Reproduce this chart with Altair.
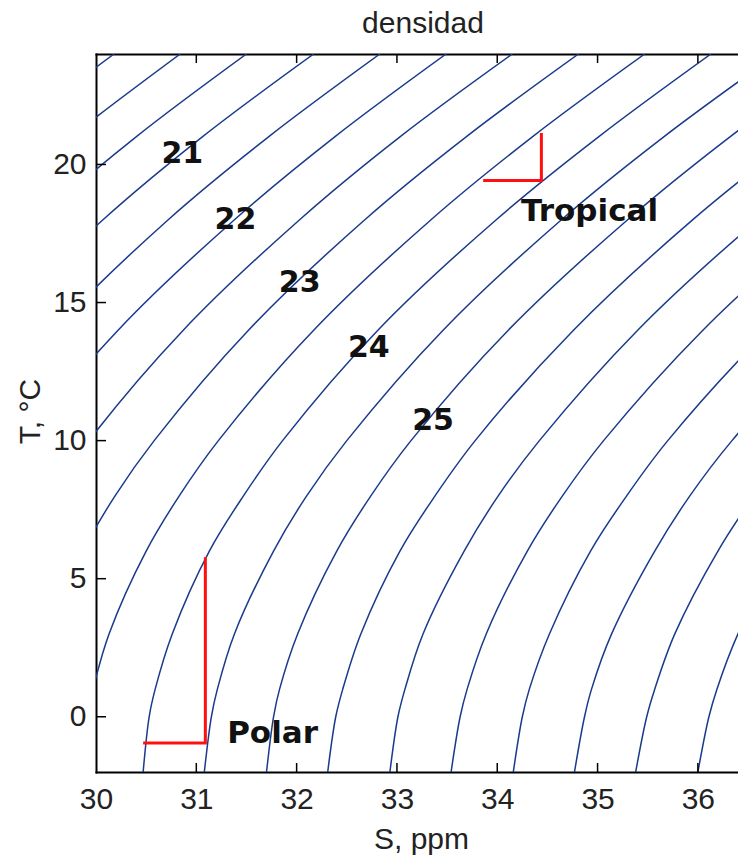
import altair as alt
import pandas as pd

# ---- data ----
# temperature rows at which each density isoline was read (°C)
T_LEVELS = [-2, 0, 1, 3, 6, 8, 10, 14, 18, 21, 24]
# isoline levels (sigma-t)
SIGMA = [20.0, 20.5, 21.0, 21.5, 22.0, 22.5, 23.0, 23.5, 24.0, 24.5,
         25.0, 25.5, 26.0, 26.5, 27.0, 27.5, 28.0, 28.5, 29.0]
# salinity of each isoline at each temperature row
S_TM2 = [24.94, 25.55, 26.17, 26.78, 27.40, 28.01, 28.63, 29.24, 29.85, 30.47, 31.08, 31.70, 32.31, 32.93, 33.54, 34.16, 34.77, 35.38, 36.00]
S_T0 = [24.96, 25.58, 26.19, 26.81, 27.43, 28.05, 28.67, 29.29, 29.91, 30.53, 31.15, 31.77, 32.39, 33.01, 33.63, 34.25, 34.87, 35.49, 36.11]
S_T1 = [24.99, 25.61, 26.24, 26.86, 27.48, 28.10, 28.72, 29.35, 29.97, 30.59, 31.21, 31.83, 32.46, 33.08, 33.70, 34.32, 34.94, 35.57, 36.19]
S_T3 = [25.12, 25.75, 26.37, 27.00, 27.63, 28.25, 28.88, 29.50, 30.13, 30.76, 31.38, 32.01, 32.64, 33.26, 33.89, 34.52, 35.14, 35.77, 36.40]
S_T6 = [25.44, 26.07, 26.70, 27.34, 27.97, 28.60, 29.24, 29.87, 30.50, 31.13, 31.77, 32.40, 33.03, 33.67, 34.30, 34.93, 35.57, 36.20, 36.83]
S_T8 = [25.73, 26.37, 27.01, 27.64, 28.28, 28.92, 29.55, 30.19, 30.83, 31.47, 32.10, 32.74, 33.38, 34.01, 34.65, 35.29, 35.92, 36.56, 37.20]
S_T10 = [26.09, 26.73, 27.37, 28.01, 28.65, 29.29, 29.93, 30.58, 31.22, 31.86, 32.50, 33.14, 33.78, 34.42, 35.06, 35.70, 36.34, 36.98, 37.62]
S_T14 = [26.99, 27.63, 28.28, 28.93, 29.58, 30.22, 30.87, 31.52, 32.17, 32.81, 33.46, 34.11, 34.76, 35.40, 36.05, 36.70, 37.35, 37.99, 38.64]
S_T18 = [28.11, 28.76, 29.42, 30.07, 30.72, 31.38, 32.03, 32.68, 33.34, 33.99, 34.64, 35.30, 35.95, 36.60, 37.26, 37.91, 38.56, 39.22, 39.87]
S_T21 = [29.09, 29.75, 30.40, 31.06, 31.72, 32.38, 33.03, 33.69, 34.35, 35.01, 35.66, 36.32, 36.98, 37.64, 38.29, 38.95, 39.61, 40.26, 40.92]
S_T24 = [30.18, 30.84, 31.50, 32.17, 32.83, 33.49, 34.15, 34.81, 35.47, 36.13, 36.79, 37.45, 38.11, 38.78, 39.44, 40.10, 40.76, 41.42, 42.08]
S_ROWS = [S_TM2, S_T0, S_T1, S_T3, S_T6, S_T8, S_T10, S_T14, S_T18, S_T21, S_T24]

# isoline number labels
LABEL_TEXT = ["21", "22", "23", "24", "25"]
LABEL_S = [30.86, 31.39, 32.03, 32.72, 33.36]
LABEL_T = [20.06, 17.65, 15.39, 13.02, 10.38]

# water-mass names
MASS_TEXT = ["Tropical", "Polar"]
MASS_S = [34.92, 31.76]
MASS_T = [17.94, -0.94]

# red water-mass markers (corner paths)
MARK_NAME = ["Tropical", "Tropical", "Tropical", "Polar", "Polar", "Polar"]
MARK_S = [33.86, 34.44, 34.44, 30.47, 31.09, 31.09]
MARK_T = [19.42, 19.42, 21.14, -0.95, -0.95, 5.78]
MARK_ORDER = [0, 1, 2, 0, 1, 2]

X_TICKS = [30, 31, 32, 33, 34, 35, 36]
X_INNER_TICKS = [31, 32, 33, 34, 35, 36]
Y_TICKS = [0, 5, 10, 15, 20]

# ---- tables ----
rows = []
for t, arr in zip(T_LEVELS, S_ROWS):
    for sig, s in zip(SIGMA, arr):
        rows.append({"sigma": sig, "T": t, "S": s})
iso = pd.DataFrame(rows)
labels = pd.DataFrame({"txt": LABEL_TEXT, "S": LABEL_S, "T": LABEL_T})
masses = pd.DataFrame({"txt": MASS_TEXT, "S": MASS_S, "T": MASS_T})
marks = pd.DataFrame({"name": MARK_NAME, "S": MARK_S, "T": MARK_T, "o": MARK_ORDER})
xt = pd.DataFrame({"S": X_INNER_TICKS})
yt = pd.DataFrame({"T": Y_TICKS})

W, H = 642, 718
AXFONT = "Liberation Sans"
TXT = "#222222"
FS = 30

xscale = alt.Scale(domain=[30, 36.4], nice=False, zero=False)
yscale = alt.Scale(domain=[-2, 24], nice=False, zero=False)

yaxis = alt.Axis(values=Y_TICKS, ticks=False, tickSize=0, grid=False,
                 domain=True, domainColor="black", domainWidth=2, domainCap="square",
                 labelFont=AXFONT, labelFontSize=FS, labelColor=TXT, labelPadding=10,
                 labelFlush=False, labelOverlap=False,
                 title="T, °C", titleFont=AXFONT, titleFontSize=FS, titleFontWeight="normal",
                 titleColor=TXT, titleX=-66, titleY=357, titleBaseline="middle",
                 titleAlign="center", titleAngle=270)
xaxis_bottom = alt.Axis(values=X_TICKS, ticks=False, tickSize=0, grid=False,
                        domain=True, domainColor="black", domainWidth=2, domainCap="square",
                        labelFont=AXFONT, labelFontSize=FS, labelColor=TXT, labelPadding=12,
                        labelFlush=False, labelOverlap=False, format="d",
                        title="S, ppm", titleFont=AXFONT, titleFontSize=FS,
                        titleFontWeight="normal", titleColor=TXT, titleX=325, titleY=76,
                        titleBaseline="alphabetic", titleAlign="center")
xaxis_top = alt.Axis(orient="top", labels=False, ticks=False, tickSize=0, grid=False,
                     domain=True, domainColor="black", domainWidth=2, domainCap="square",
                     title=None)

contours = alt.Chart(iso).mark_line(
    clip=True, interpolate="catmull-rom", color="#1a3a8c", strokeWidth=1.5
).encode(
    x=alt.X("S:Q", scale=xscale, axis=xaxis_top),
    y=alt.Y("T:Q", scale=yscale, axis=yaxis),
    detail="sigma:N",
    order=alt.Order("T:Q"),
)

bottom_ticks = alt.Chart(xt).mark_rule(color="black", strokeWidth=1.5).encode(
    x=alt.X("S:Q", scale=xscale, axis=xaxis_bottom),
    y=alt.value(H), y2=alt.value(H - 9),
)
top_ticks = alt.Chart(xt).mark_rule(color="black", strokeWidth=1.5).encode(
    x=alt.X("S:Q", scale=xscale, axis=None),
    y=alt.value(0), y2=alt.value(9),
)
left_ticks = alt.Chart(yt).mark_rule(color="black", strokeWidth=1.5).encode(
    y=alt.Y("T:Q", scale=yscale, axis=yaxis),
    x=alt.value(0), x2=alt.value(10),
)

red = alt.Chart(marks).mark_line(color="#ff1010", strokeWidth=3, strokeJoin="miter").encode(
    x=alt.X("S:Q", scale=xscale, axis=None),
    y=alt.Y("T:Q", scale=yscale, axis=yaxis),
    detail="name:N",
    order=alt.Order("o:Q"),
)

num_labels = alt.Chart(labels).mark_text(
    font="DejaVu Sans", fontWeight="bold", fontSize=30, color="#111111",
    align="center", baseline="alphabetic"
).encode(
    x=alt.X("S:Q", scale=xscale, axis=None),
    y=alt.Y("T:Q", scale=yscale, axis=yaxis),
    text="txt:N",
)
mass_labels = alt.Chart(masses).mark_text(
    font="DejaVu Sans", fontWeight="bold", fontSize=31, color="#111111",
    align="center", baseline="alphabetic"
).encode(
    x=alt.X("S:Q", scale=xscale, axis=None),
    y=alt.Y("T:Q", scale=yscale, axis=yaxis),
    text="txt:N",
)

chart = alt.layer(
    contours, red, bottom_ticks, top_ticks, left_ticks, num_labels, mass_labels
).resolve_axis(x="independent").properties(
    width=W, height=H,
    title=alt.TitleParams("densidad", font=AXFONT, fontSize=FS, fontWeight="normal",
                          color=TXT, anchor="middle", frame="group", offset=21,
                          baseline="alphabetic", dx=6, dy=31),
    autosize=alt.AutoSizeParams(type="none"),
    padding={"left": 96, "top": 54, "right": 0, "bottom": 88},
).configure_view(stroke=None).configure(background="white")

chart.save("out.html", embed_options={"renderer": "svg", "actions": False})
